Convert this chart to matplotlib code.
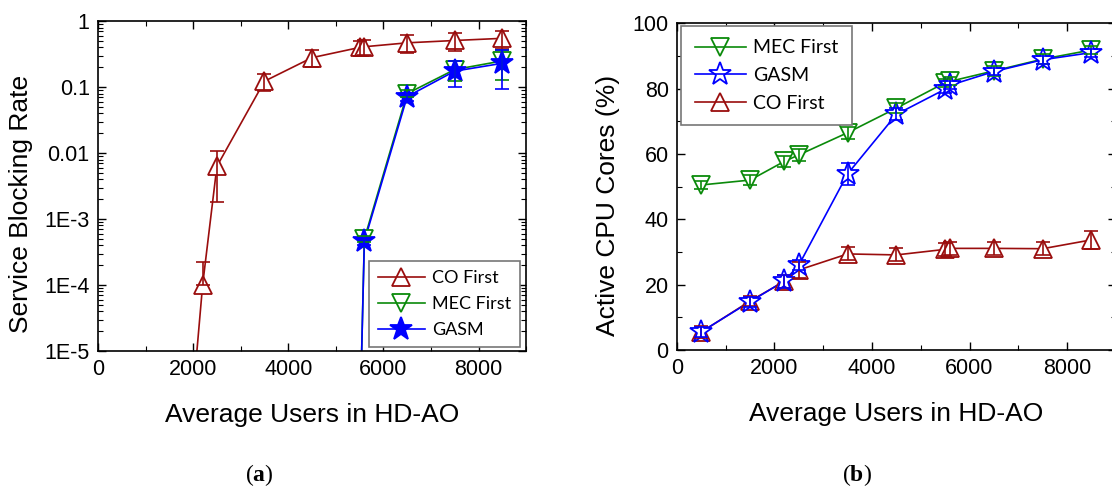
import matplotlib; matplotlib.use("Agg")
import matplotlib.pyplot as plt
from matplotlib.lines import Line2D
from matplotlib.ticker import LogLocator, MultipleLocator, FixedLocator, FixedFormatter, NullFormatter
import numpy as np

plt.rcParams['font.family'] = ['Liberation Sans', 'DejaVu Sans']
plt.rcParams['mathtext.fontset'] = 'custom'
plt.rcParams['mathtext.rm'] = 'Liberation Serif'
plt.rcParams['mathtext.bf'] = 'Liberation Serif:bold'

RED, GREEN, BLUE = "#9A0D0D", "#0A8A0A", "#0000FF"

# ---------------------------------------------------------------- (a) data
xa_co   = [1500, 2200, 2500, 3500, 4500, 5500, 5600, 6500, 7500, 8500]
co_blk  = [1.5e-10, 1.0e-4, 6.3e-3, 0.123, 0.28, 0.40, 0.41, 0.47, 0.51, 0.55]
co_blk_lo = [0, 0, 4.5e-3, 0.034, 0.08, 0.10, 0.10, 0.14, 0.16, 0.17]
co_blk_hi = [0, 1.2e-4, 4.5e-3, 0.034, 0.08, 0.10, 0.10, 0.14, 0.16, 0.17]

xa_g    = [5500, 5600, 6500, 7500, 8500]
mec_blk = [5e-7, 5.0e-4, 0.080, 0.185, 0.25]
mec_err = [0, 5e-5, 0.010, 0.060, 0.12]
gasm_blk = [5e-7, 4.6e-4, 0.072, 0.175, 0.23]
gasm_err = [0, 5e-5, 0.010, 0.075, 0.135]

# ---------------------------------------------------------------- (b) data
xb      = [500, 1500, 2200, 2500, 3500, 4500, 5500, 5600, 6500, 7500, 8500]
mec_cpu = [50.5, 52.0, 57.7, 59.7, 66.5, 74.0, 81.8, 82.2, 85.4, 89.0, 91.8]
mec_cpu_err = [1.2, 1.5, 1.8, 1.8, 1.8, 1.5, 1.2, 1.2, 1.5, 1.5, 1.2]
gasm_cpu = [5.6, 14.8, 21.1, 26.0, 53.9, 72.1, 79.8, 81.0, 85.2, 88.8, 91.0]
gasm_cpu_err = [1.5, 1.5, 2.0, 1.5, 3.3, 1.8, 1.2, 1.2, 1.2, 1.2, 1.2]
co_cpu  = [5.5, 15.0, 21.0, 24.5, 29.4, 29.1, 30.8, 31.1, 31.1, 31.0, 33.7]
co_cpu_err = [1.8, 1.5, 2.0, 2.5, 2.0, 2.0, 2.0, 2.0, 2.0, 2.0, 2.8]


def series(ax, x, y, err, color, marker, filled, ms=13):
    face = color if filled else "white"
    ax.plot(x, y, "-", color=color, lw=1.2, zorder=2)
    ax.plot(x, y, ls="none", marker=marker, ms=ms, mfc=face, mec=color, mew=1.3, zorder=3)
    ax.errorbar(x, y, yerr=err, fmt="none", ecolor=color, elinewidth=1.2,
                capsize=5, capthick=1.2, zorder=4)
    return Line2D([], [], color=color, lw=1.2, marker=marker, ms=ms,
                  mfc=color if filled else "none", mec=color, mew=1.3)


def style(ax):
    ax.tick_params(which="both", direction="in", top=True, right=True, labelsize=15.5, pad=6)
    ax.tick_params(which="major", length=6, width=1)
    ax.tick_params(which="minor", length=3.5, width=0.8)
    for s in ax.spines.values():
        s.set_linewidth(1.2)


def legend(ax, handles, labels, loc, anchor, pad, size):
    lg = ax.legend(handles, labels, loc=loc, bbox_to_anchor=anchor, borderaxespad=0,
                   prop={"family": "Lato", "size": size}, handlelength=2.6,
                   handletextpad=0.4, borderpad=pad, labelspacing=0.55,
                   fancybox=False, framealpha=1, edgecolor="#777777")
    lg.get_frame().set_linewidth(1.2)


fig = plt.figure(figsize=(11.12, 4.93), dpi=100)

# ----------------------------------------------------------------- panel a
ax = fig.add_axes([0.0881, 0.288, 0.385, 0.669])
ax.set_yscale("log", nonpositive="clip")
h_co = series(ax, xa_co, co_blk, [co_blk_lo, co_blk_hi], RED, "^", False)
h_mec = series(ax, xa_g, mec_blk, mec_err, GREEN, "v", False)
h_g = series(ax, xa_g, gasm_blk, gasm_err, BLUE, "*", True, ms=17)
ax.set_xlim(0, 9000); ax.set_ylim(1e-5, 1)
ax.xaxis.set_major_locator(MultipleLocator(2000))
ax.xaxis.set_minor_locator(MultipleLocator(1000))
ax.yaxis.set_major_locator(FixedLocator([1e-5, 1e-4, 1e-3, 1e-2, 1e-1, 1]))
ax.yaxis.set_major_formatter(FixedFormatter(["1E-5", "1E-4", "1E-3", "0.01", "0.1", "1"]))
ax.yaxis.set_minor_locator(LogLocator(base=10, subs=np.arange(2, 10), numticks=20))
ax.yaxis.set_minor_formatter(NullFormatter())
style(ax)
ax.set_xlabel("Average Users in HD-AO", fontsize=19, labelpad=16)
ax.set_ylabel("Service Blocking Rate", fontsize=19)
ax.yaxis.set_label_coords(-0.152, 0.445)
legend(ax, [h_co, h_mec, h_g], ["CO First", "MEC First", "GASM"],
       "lower right", (0.986, 0.012), 0.5, 13)

# ----------------------------------------------------------------- panel b
bx = fig.add_axes([0.6088, 0.290, 0.3946, 0.663])
h_mec2 = series(bx, xb, mec_cpu, mec_cpu_err, GREEN, "v", False)
h_co2 = series(bx, xb, co_cpu, co_cpu_err, RED, "^", False)
h_g2 = series(bx, xb, gasm_cpu, gasm_cpu_err, BLUE, "*", False, ms=17)
bx.set_xlim(0, 9000); bx.set_ylim(0, 100)
bx.xaxis.set_major_locator(MultipleLocator(2000))
bx.xaxis.set_minor_locator(MultipleLocator(1000))
bx.yaxis.set_major_locator(MultipleLocator(20))
bx.yaxis.set_minor_locator(MultipleLocator(10))
style(bx)
bx.set_xlabel("Average Users in HD-AO", fontsize=19, labelpad=16)
bx.set_ylabel("Active CPU Cores (%)", fontsize=19)
bx.yaxis.set_label_coords(-0.130, 0.443)
legend(bx, [h_mec2, h_g2, h_co2], ["MEC First", "GASM", "CO First"],
       "upper left", (0.01, 0.992), 0.7, 14)

fig.text(0.233, 0.036, r"$\mathrm{(}\mathbf{a}\mathrm{)}$", fontsize=17, ha="center", va="center")
fig.text(0.771, 0.036, r"$\mathrm{(}\mathbf{b}\mathrm{)}$", fontsize=17, ha="center", va="center")

fig.savefig("out.png", dpi=100)
